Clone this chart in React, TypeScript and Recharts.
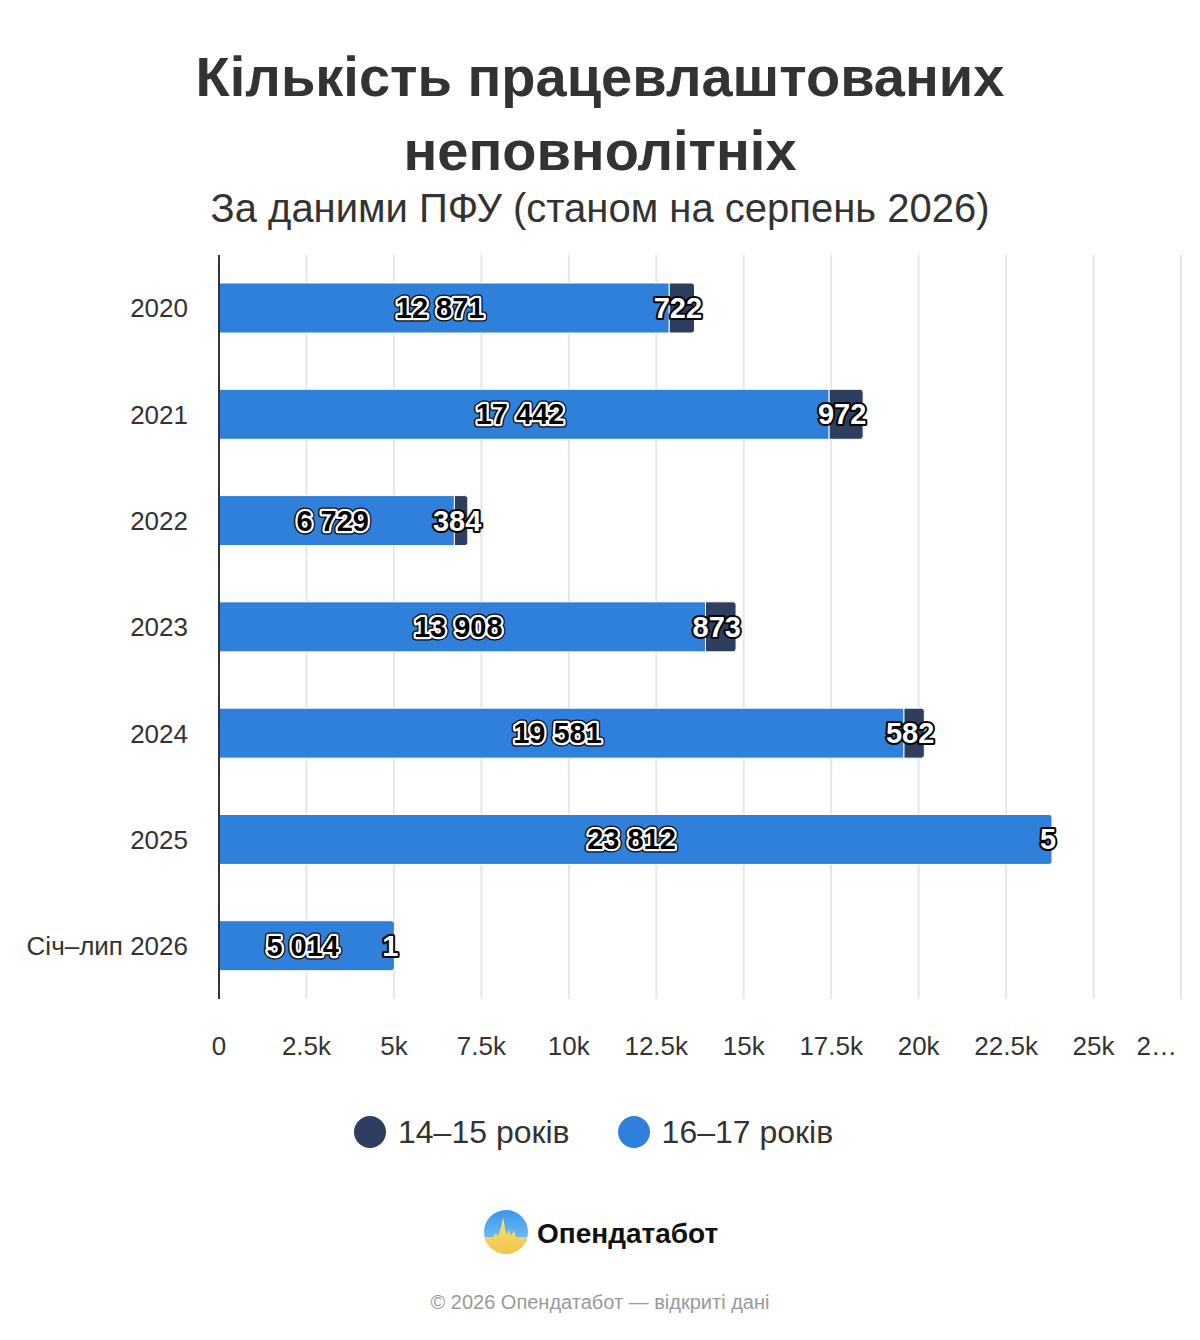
import React from 'react';
import { BarChart, Bar, XAxis, YAxis, CartesianGrid, LabelList, Rectangle } from 'recharts';

const CATEGORIES = ['2020', '2021', '2022', '2023', '2024', '2025', 'Січ–лип 2026'];
const AGE_16_17 = [12871, 17442, 6729, 13908, 19581, 23812, 5014];
const AGE_14_15 = [722, 972, 384, 873, 582, 5, 1];
const X_TICKS = [0, 2500, 5000, 7500, 10000, 12500, 15000, 17500, 20000, 22500, 25000, 27500];

const BLUE = '#2E80DA';
const DARK = '#2D3E5E';
const TEXT = '#333333';
const FONT = '"Liberation Sans", Arial, Helvetica, sans-serif';

const SERIES = [
  { key: 'a1415', name: '14–15 років', color: DARK },
  { key: 'a1617', name: '16–17 років', color: BLUE },
];

const data = CATEGORIES.map((cat, i) => ({ cat, a1617: AGE_16_17[i], a1415: AGE_14_15[i] }));

const CHART_W = 1200;

const fmtNum = (v: number) => String(v).replace(/\B(?=(\d{3})+(?!\d))/g, ' ');
const fmtTick = (v: number) => (v === 0 ? '0' : `${v / 1000}k`);

const getBox = (p: any) => {
  const vb = p.viewBox || {};
  return {
    x: Number(p.x ?? vb.x),
    y: Number(p.y ?? vb.y),
    w: Number(p.width ?? vb.width),
    h: Number(p.height ?? vb.height),
  };
};

const BlueLabel = (p: any) => {
  const { x, y, w, h } = getBox(p);
  const cx = x + w / 2 - 4;
  const cy = y + h / 2;
  const txt = fmtNum(Number(p.value));
  const common = {
    x: cx,
    y: cy,
    textAnchor: 'middle' as const,
    dominantBaseline: 'central' as const,
    fontSize: 29,
    fontWeight: 700,
    fontFamily: FONT,
    strokeLinejoin: 'round' as const,
  };
  return (
    <g>
      <text {...common} fill="#000" stroke="#000" strokeWidth={7}>{txt}</text>
      <text {...common} fill="#000" stroke="#fff" strokeWidth={4.5} style={{ paintOrder: 'stroke' }}>{txt}</text>
    </g>
  );
};

const DarkLabel = (p: any) => {
  const { x, y, w, h } = getBox(p);
  const cx = x + w / 2 - 4;
  const cy = y + h / 2;
  const txt = fmtNum(Number(p.value));
  return (
    <text
      x={cx}
      y={cy}
      textAnchor="middle"
      dominantBaseline="central"
      fontSize={29}
      fontWeight={700}
      fontFamily={FONT}
      fill="#fff"
      stroke="#000"
      strokeWidth={4}
      strokeLinejoin="round"
      style={{ paintOrder: 'stroke' }}
    >
      {txt}
    </text>
  );
};

const BlueShape = (props: any) => {
  const { x, y, width, height, fill, index } = props;
  const dark = props.payload?.a1415 ?? AGE_14_15[index];
  const rounded = dark < 50;
  return (
    <Rectangle
      x={x}
      y={y}
      width={width}
      height={height}
      fill={fill}
      stroke="#fff"
      strokeWidth={1}
      radius={rounded ? [0, 3, 3, 0] : 0}
    />
  );
};

const DarkShape = (props: any) => {
  const { x, y, width, height, fill } = props;
  if (!(width > 1.5)) return <g />;
  return (
    <Rectangle x={x} y={y} width={width} height={height} fill={fill} stroke="#fff" strokeWidth={1} radius={[0, 3, 3, 0]} />
  );
};

const XTick = (p: any) => {
  const { x, y, payload } = p;
  const label = fmtTick(payload.value);
  const est = label.length * 0.53 * 26;
  const overflow = x + est / 2 > CHART_W - 2;
  return (
    <text
      x={overflow ? x - 4 : x}
      y={y + 47}
      dy="0.35em"
      textAnchor={overflow ? 'end' : 'middle'}
      fontSize={26}
      fill={TEXT}
      fontFamily={FONT}
    >
      {overflow ? `${label[0]}…` : label}
    </text>
  );
};

const Logo = () => {
  const cx = 506;
  const cy = 1232;
  const r = 22;
  const wave = [
    [-22, 5], [-13, 5], [-10, 1], [-8, 4], [-5, -5], [-3, -15], [-1, -4], [1, 3], [3, -3], [5, 4], [8, -2], [10, 5], [22, 5], [22, 24], [-22, 24],
  ]
    .map(([dx, dy]) => `${cx + dx},${cy + dy}`)
    .join(' ');
  return (
    <g>
      <defs>
        <linearGradient id="logoBlue" x1="0" y1="0" x2="0" y2="1">
          <stop offset="0%" stopColor="#3896ee" />
          <stop offset="100%" stopColor="#8fcdf2" />
        </linearGradient>
        <linearGradient id="logoYellow" x1="0" y1="0" x2="0" y2="1">
          <stop offset="0%" stopColor="#f7e27a" />
          <stop offset="100%" stopColor="#f3c445" />
        </linearGradient>
        <clipPath id="logoClip">
          <circle cx={cx} cy={cy} r={r} />
        </clipPath>
      </defs>
      <circle cx={cx} cy={cy} r={r} fill="url(#logoBlue)" />
      <polygon points={wave} fill="url(#logoYellow)" clipPath="url(#logoClip)" />
      <text x={537} y={1243} fontSize={28} fontWeight={700} fill="#111" fontFamily={FONT}>
        Опендатабот
      </text>
    </g>
  );
};

export default function App() {
  return (
    <div
      style={{
        position: 'absolute',
        left: 0,
        top: 0,
        width: 1200,
        height: 1340,
        background: '#fff',
        fontFamily: FONT,
        overflow: 'hidden',
      }}
    >
      <svg width={1200} height={1340} style={{ position: 'absolute', left: 0, top: 0 }}>
        <text x={600} y={96} textAnchor="middle" fontSize={56} fontWeight={700} fill={TEXT} fontFamily={FONT}>
          Кількість працевлаштованих
        </text>
        <text x={600} y={170} textAnchor="middle" fontSize={56} fontWeight={700} fill={TEXT} fontFamily={FONT}>
          неповнолітніх
        </text>
        <text x={600} y={222} textAnchor="middle" fontSize={40} fill={TEXT} fontFamily={FONT}>
          За даними ПФУ (станом на серпень 2026)
        </text>
        <Logo />
        <text x={600} y={1309} textAnchor="middle" fontSize={20} fill="#999" fontFamily={FONT}>
          © 2026 Опендатабот — відкриті дані
        </text>
      </svg>

      <div style={{ position: 'absolute', left: 0, top: 0 }}>
        <BarChart
          width={CHART_W}
          height={1100}
          data={data}
          layout="vertical"
          margin={{ top: 255, right: 19, bottom: 41, left: 0 }}
          barSize={50}
        >
          <CartesianGrid horizontal={false} vertical stroke="#e6e6e6" strokeWidth={2} />
          <XAxis
            type="number"
            domain={[0, 27500]}
            ticks={X_TICKS}
            interval={0}
            axisLine={false}
            tickLine={false}
            tickSize={0}
            tickMargin={0}
            height={60}
            tick={<XTick />}
          />
          <YAxis
            type="category"
            dataKey="cat"
            width={219}
            axisLine={{ stroke: '#333', strokeWidth: 2 }}
            tickLine={false}
            tickSize={0}
            tickMargin={31}
            tick={{ fill: TEXT, fontSize: 26, fontFamily: FONT }}
            interval={0}
          />
          <Bar dataKey="a1617" stackId="s" fill={BLUE} isAnimationActive={false} shape={<BlueShape />}>
            <LabelList dataKey="a1617" content={<BlueLabel />} />
          </Bar>
          <Bar dataKey="a1415" stackId="s" fill={DARK} isAnimationActive={false} shape={<DarkShape />}>
            <LabelList dataKey="a1415" content={<DarkLabel />} />
          </Bar>
        </BarChart>
      </div>

      <div
        style={{
          position: 'absolute',
          left: 354,
          top: 1110,
          display: 'flex',
          alignItems: 'center',
          gap: 48,
          height: 44,
        }}
      >
        {SERIES.map((s) => (
          <div key={s.key} style={{ display: 'flex', alignItems: 'center' }}>
            <span
              style={{
                display: 'inline-block',
                width: 32,
                height: 32,
                borderRadius: '50%',
                background: s.color,
                marginRight: 12,
              }}
            />
            <span style={{ fontSize: 32, color: TEXT, lineHeight: '44px', whiteSpace: 'nowrap' }}>{s.name}</span>
          </div>
        ))}
      </div>
    </div>
  );
}
